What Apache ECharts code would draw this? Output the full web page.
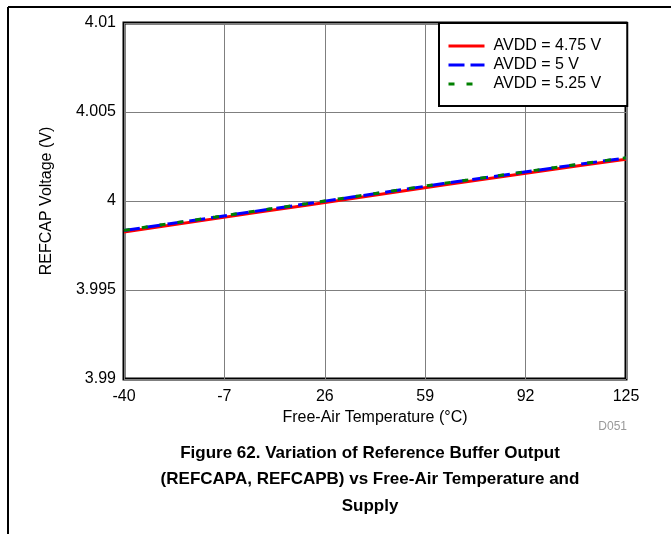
<!DOCTYPE html>
<html>
<head>
<meta charset="utf-8">
<script src="https://cdn.jsdelivr.net/npm/echarts@6/dist/echarts.min.js"></script>
<style>
html,body{margin:0;padding:0;background:#fff;}
#chart{width:671px;height:534px;}
</style>
</head>
<body>
<div id="chart"></div>
<script>
// Data
const temps = [-40, -25, -10, 5, 20, 35, 50, 65, 80, 95, 110, 125];
const avdd475 = [3.99826, 3.99864, 3.99901, 3.99939, 3.99976, 4.00014, 4.00052, 4.00090, 4.00126, 4.00163, 4.00199, 4.00234];
const avdd5 = [3.99834, 3.99872, 3.99909, 3.99947, 3.99984, 4.00022, 4.00060, 4.00098, 4.00134, 4.00171, 4.00207, 4.00242];
const avdd525 = [3.99835, 3.99873, 3.99910, 3.99948, 3.99985, 4.00023, 4.00061, 4.00099, 4.00135, 4.00172, 4.00208, 4.00243];
const seriesNames = ['AVDD = 4.75 V', 'AVDD = 5 V', 'AVDD = 5.25 V'];
const xTicks = [-40, -7, 26, 59, 92, 125];
const yTicks = [3.99, 3.995, 4, 4.005, 4.01];
const titleLines = ['Figure 62. Variation of Reference Buffer Output', '(REFCAPA, REFCAPB) vs Free-Air Temperature and', 'Supply'];
const figId = 'D051';

const FONT = 'Liberation Sans, Arial, sans-serif';
const FS = 16;
const chart = echarts.init(document.getElementById('chart'), null, {renderer: 'canvas'});
const pair = (ys) => temps.map((t, i) => [t, ys[i]]);
const yLabel = (v) => String(Math.round(v * 1000) / 1000);

const titleGraphics = titleLines.map((t, i) => ({
  type: 'text', x: 370, y: 453 + i * 26.5,
  style: {text: t, fontFamily: FONT, fontSize: 17, fontWeight: 'bold', fill: '#000', align: 'center', verticalAlign: 'middle'}
}));

chart.setOption({
  animation: false,
  backgroundColor: '#fff',
  grid: {left: 124, top: 23, width: 502, height: 356, show: true, borderColor: '#000', borderWidth: 3, backgroundColor: 'transparent'},
  xAxis: {
    type: 'value', min: xTicks[0], max: xTicks[xTicks.length - 1], interval: xTicks[1] - xTicks[0],
    name: 'Free-Air Temperature (°C)', nameLocation: 'middle', nameGap: 31,
    nameTextStyle: {fontFamily: FONT, fontSize: FS, color: '#000'},
    axisLine: {show: false}, axisTick: {show: false},
    axisLabel: {fontFamily: FONT, fontSize: FS, color: '#000', margin: 10, showMinLabel: true, showMaxLabel: true},
    splitLine: {show: true, lineStyle: {color: '#7f7f7f', width: 1}}
  },
  yAxis: {
    type: 'value', min: yTicks[0], max: yTicks[yTicks.length - 1], interval: 0.005,
    name: 'REFCAP Voltage (V)', nameLocation: 'middle', nameGap: 69,
    nameTextStyle: {fontFamily: FONT, fontSize: FS, color: '#000'},
    axisLine: {show: false}, axisTick: {show: false},
    axisLabel: {fontFamily: FONT, fontSize: FS, color: '#000', margin: 8, formatter: yLabel},
    splitLine: {show: true, lineStyle: {color: '#7f7f7f', width: 1}}
  },
  legend: {
    show: true, left: 439, top: 23, orient: 'vertical',
    backgroundColor: '#fff', borderColor: '#000', borderWidth: 2, borderRadius: 0,
    padding: [15, 26, 14, 8], itemGap: 3, itemWidth: 36, itemHeight: 14,
    itemStyle: {opacity: 0, borderWidth: 0},
    lineStyle: {width: 3},
    textStyle: {fontFamily: FONT, fontSize: FS, color: '#000', padding: [0, 0, 0, 4]},
    data: seriesNames
  },
  series: [
    {name: seriesNames[0], type: 'line', data: pair(avdd475), showSymbol: false, symbol: 'none',
     lineStyle: {color: '#ff0000', width: 3, type: 'solid'}, itemStyle: {color: '#ff0000'}, z: 3},
    {name: seriesNames[1], type: 'line', data: pair(avdd5), showSymbol: false, symbol: 'none',
     lineStyle: {color: '#0000ff', width: 3, type: [16, 6]}, itemStyle: {color: '#0000ff'}, z: 4},
    {name: seriesNames[2], type: 'line', data: pair(avdd525), showSymbol: false, symbol: 'none',
     lineStyle: {color: '#008000', width: 3, type: [6, 12]}, itemStyle: {color: '#008000'}, z: 5}
  ],
  graphic: [
    {type: 'line', shape: {x1: 8, y1: 7, x2: 671, y2: 7}, style: {stroke: '#000', lineWidth: 2}},
    {type: 'line', shape: {x1: 8, y1: 7, x2: 8, y2: 534}, style: {stroke: '#000', lineWidth: 2}},
    {type: 'text', x: 627, y: 427, style: {text: figId, fontFamily: FONT, fontSize: 12, fill: '#999', align: 'right', verticalAlign: 'middle'}}
  ].concat(titleGraphics)
});
</script>
</body>
</html>
